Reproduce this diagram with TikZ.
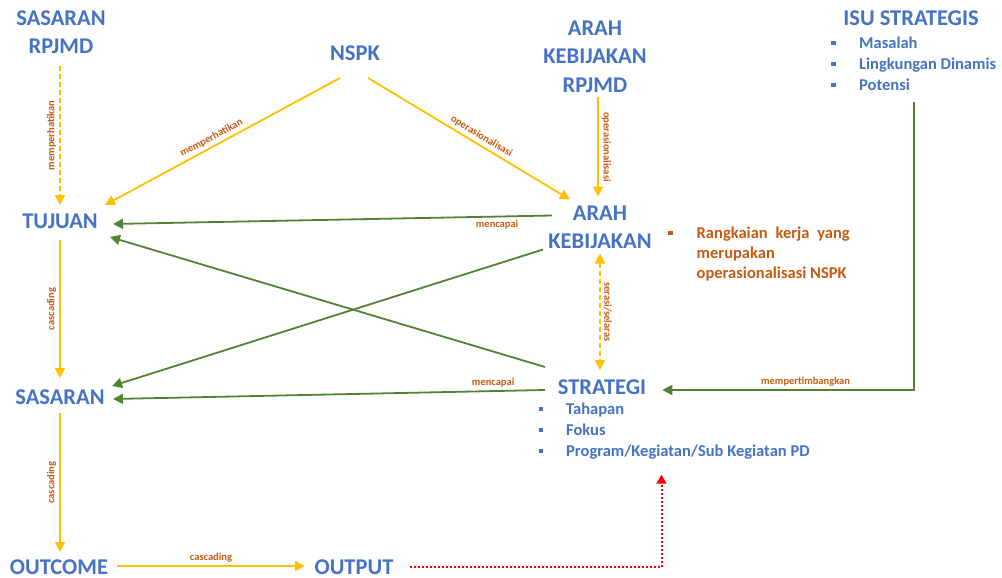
\documentclass[tikz,border=0pt]{standalone}
\usepackage{fontspec}
\setmainfont{Carlito}
\usetikzlibrary{arrows.meta}
\definecolor{judulbiru}{HTML}{4472C4}
\definecolor{labeloranye}{HTML}{C55A11}
\definecolor{panahkuning}{HTML}{FFC000}
\definecolor{panahhijau}{HTML}{548235}
\definecolor{panahmerah}{HTML}{FF0000}
\newcommand{\kotak}{\rule[3pt]{4.5pt}{4.5pt}}
\begin{document}
\begin{tikzpicture}[x=1pt,y=-1pt,
    judul/.style={font=\fontsize{22.5}{28.5}\selectfont\bfseries, text=judulbiru, align=center, inner sep=0pt},
    daftar/.style={font=\fontsize{16.5}{21}\selectfont\bfseries, text=judulbiru, anchor=west, inner sep=0pt},
    ket/.style={font=\fontsize{10.5}{12}\selectfont\bfseries, text=labeloranye, inner sep=3pt},
    kuning/.style={draw=panahkuning, line width=1.8pt, -{Triangle[length=10pt,width=10pt]}},
    hijau/.style={draw=panahhijau, line width=1.8pt, -{Triangle[length=10pt,width=10pt]}},
    putus/.style={dash pattern=on 5pt off 3pt},
    merah/.style={draw=panahmerah, line width=2pt, dash pattern=on 2pt off 2pt, -{Triangle[length=9pt,width=10pt]}}]
  \useasboundingbox (0,0) rectangle (1002,578);
  \draw
    (61,32) node[judul] (sasrpjmd) {SASARAN\\RPJMD}
    (355,53) node[judul] (nspk) {NSPK}
    (595,56.5) node[judul] (akrpjmd) {ARAH\\KEBIJAKAN\\RPJMD}
    (911,18) node[judul] (isu) {ISU STRATEGIS}
    (60,221) node[judul] (tujuan) {TUJUAN}
    (600,227.5) node[judul] (arahkeb) {ARAH\\KEBIJAKAN}
    (60,397) node[judul] (sasaran) {SASARAN}
    (602,387) node[judul] (strategi) {STRATEGI}
    (59,567) node[judul] (outcome) {OUTCOME}
    (354,567) node[judul] (output) {OUTPUT};
  % daftar isi
  \node[daftar] (isulist) at (831,65) {\begin{tabular}{@{}l@{\hspace{23.5pt}}l@{}}
      \kotak & Masalah\\ \kotak & Lingkungan Dinamis\\ \kotak & Potensi\end{tabular}};
  \node[daftar, text=labeloranye, font=\fontsize{16.5}{20}\selectfont\bfseries] (rangkaian) at (668,254) {\begin{tabular}{@{}l@{\hspace{24pt}}l@{}}
      \kotak & \makebox[153pt][s]{Rangkaian kerja yang}\\ & merupakan\\ & operasionalisasi NSPK\end{tabular}};
  \node[daftar] (strlist) at (538.5,431) {\begin{tabular}{@{}l@{\hspace{23pt}}l@{}}
      \kotak & Tahapan\\ \kotak & Fokus\\ \kotak & Program/Kegiatan/Sub Kegiatan PD\end{tabular}};
  % panah kuning
  \draw[kuning, putus] ([shift={(-1,34)}]sasrpjmd.center) -- ([shift={(0,-16)}]tujuan.center)
    node[ket, midway, rotate=90, anchor=south] (k1) {memperhatikan};
  \draw[kuning] ([shift={(-15,25)}]nspk.center) -- ([shift={(45,-16)}]tujuan.center)
    node[ket, pos=0.53, sloped, above] (k2) {memperhatikan};
  \draw[kuning] ([shift={(13,25)}]nspk.center) -- ([shift={(-30,-28)}]arahkeb.center)
    node[ket, pos=0.54, sloped, above] (k3) {operasionalisasi};
  \draw[kuning] ([shift={(3,41)}]akrpjmd.center) -- ([shift={(-2,-31)}]arahkeb.center)
    node[ket, midway, rotate=-90, anchor=south] (k4) {operasionalisasi};
  \draw[kuning, putus, {Triangle[length=10pt,width=10pt]}-{Triangle[length=10pt,width=10pt]}]
    ([shift={(0,26)}]arahkeb.center) -- ([shift={(-2,-17)}]strategi.center)
    node[ket, midway, rotate=-90, anchor=south] (k5) {serasi/selaras};
  \draw[kuning] ([shift={(0,19)}]tujuan.center) -- ([shift={(0,-19)}]sasaran.center)
    node[ket, midway, rotate=90, anchor=south] (k6) {cascading};
  \draw[kuning] ([shift={(0,16)}]sasaran.center) -- ([shift={(1,-15)}]outcome.center)
    node[ket, midway, rotate=90, anchor=south] (k7) {cascading};
  \draw[kuning] ([shift={(58,-1)}]outcome.center) -- ([shift={(-49,-1)}]output.center)
    node[ket, midway, above] (k8) {cascading};
  % panah hijau
  \draw[hijau] ([shift={(-48,-12)}]arahkeb.center) -- ([shift={(53,3)}]tujuan.center)
    node[ket, pos=0.125, below] (k9) {mencapai};
  \draw[hijau] ([shift={(-57,-20)}]strategi.center) -- ([shift={(50,16)}]tujuan.center);
  \draw[hijau] ([shift={(-57,22)}]arahkeb.center) -- ([shift={(52,-11)}]sasaran.center);
  \draw[hijau] ([shift={(-57,3)}]strategi.center) -- ([shift={(53,2)}]sasaran.center)
    node[ket, pos=0.12, above] (k10) {mencapai};
  \draw[hijau] ([yshift=-5pt]isulist.south) |- ([shift={(16,3)}]strategi.east)
    node[ket, pos=0.715, above] (k11) {mempertimbangkan};
  % panah merah
  \draw[merah] ([xshift=16pt]output.east) -| ([shift={(123,12)}]strlist.south west);
\end{tikzpicture}
\end{document}
